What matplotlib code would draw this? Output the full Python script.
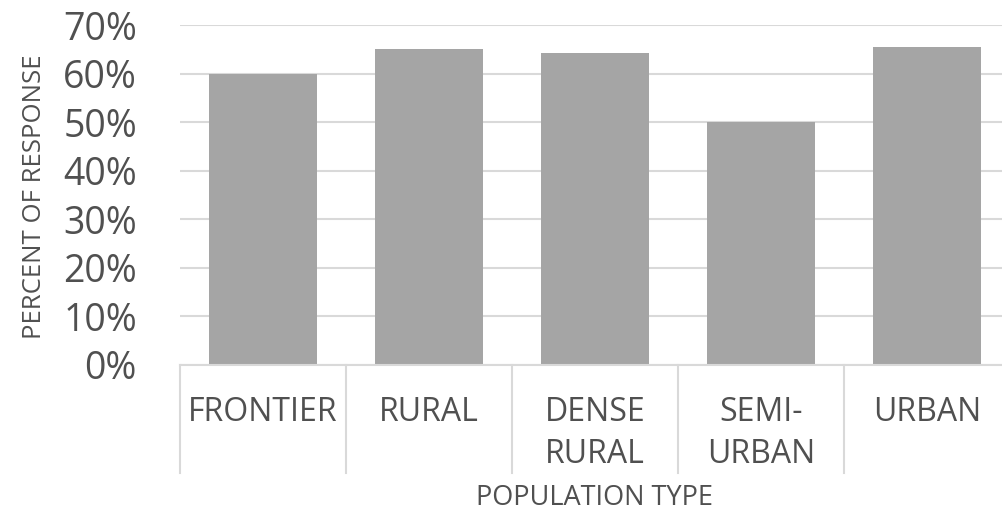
import numpy as np
import matplotlib.pyplot as plt
import matplotlib.transforms as mtransforms

plt.rcParams['font.family'] = ['Open Sans', 'DejaVu Sans']

# Data
categories = ["FRONTIER", "RURAL", "DENSE\nRURAL", "SEMI-\nURBAN", "URBAN"]
values = [60.0, 65.0, 64.2, 50.0, 65.4]
yticks = [0, 10, 20, 30, 40, 50, 60, 70]

text_col = '#505050'
grid_col = '#D9D9D9'
bar_col = '#A5A5A5'

W, H = 1002, 511
fig = plt.figure(figsize=(W / 100, H / 100), dpi=100)
# plot area in pixels: x 180..1010, y 25..364.5
ax = fig.add_axes([180 / W, 1 - 364.5 / H, 830 / W, 339.5 / H])

x = np.arange(len(categories))
ax.bar(x, values, width=0.645, color=bar_col, zorder=3)

ax.set_xlim(-0.5, len(categories) - 0.5)
ax.set_ylim(0, 70)
ax.set_yticks(yticks)
ax.set_yticklabels(['%d%%' % v for v in yticks], fontsize=27, color=text_col)
ax.tick_params(axis='y', length=0, pad=31)
ax.set_xticks([])
ax.grid(axis='y', color=grid_col, linewidth=1.5, zorder=0)
for s in ['top', 'right', 'left']:
    ax.spines[s].set_visible(False)
ax.spines['bottom'].set_color(grid_col)
ax.spines['bottom'].set_linewidth(1.5)
ax.spines['bottom'].set_zorder(4)

# category separators below the axis
trans = mtransforms.blended_transform_factory(ax.transData, ax.transAxes)
y_sep = (364.5 - 473) / 339.5
for b in np.arange(len(categories) + 1) - 0.5:
    ax.plot([b, b], [0, y_sep], transform=trans, color=grid_col,
            linewidth=1.5, clip_on=False)

# category labels, one text per line
line_base = [(364.5 - 420.7) / 339.5, (364.5 - 463.3) / 339.5]
for i, lab in enumerate(categories):
    for j, part in enumerate(lab.split('\n')):
        ax.text(i, line_base[j], part, transform=trans, ha='center',
                va='baseline', fontsize=23, color=text_col)

fig.text(595 / W, 1 - 505 / H, 'POPULATION TYPE', ha='center', va='baseline',
         fontsize=19.5, color=text_col)
fig.text(34.5 / W, 1 - 197 / H, 'PERCENT OF RESPONSE', rotation=90,
         ha='center', va='center', fontsize=18.5, color=text_col)

fig.savefig('out.png', dpi=100)
